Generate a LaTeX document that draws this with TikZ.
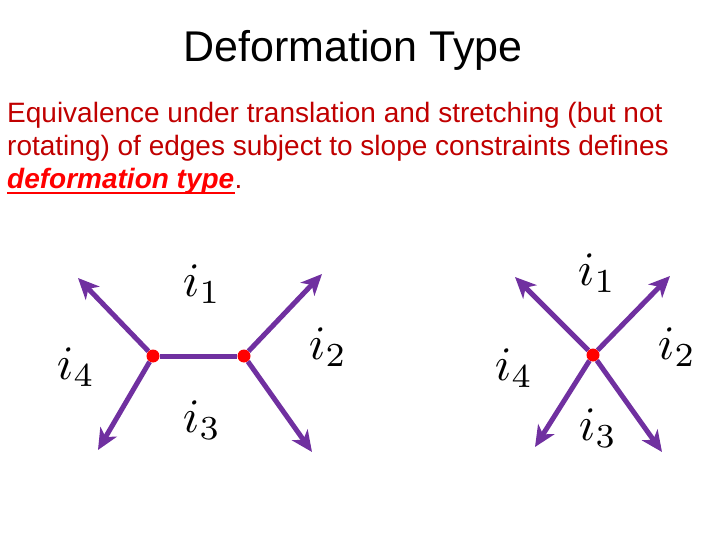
\documentclass[tikz,border=0pt]{standalone}
\usepackage{fontspec}
\setmainfont{Liberation Sans}
\usetikzlibrary{arrows.meta}
\definecolor{edgepurple}{RGB}{112,48,160}
\definecolor{textred}{RGB}{192,0,0}

\begin{document}
\begin{tikzpicture}[x=1pt, y=-1pt, >={Stealth[length=21pt,width=19pt,inset=6pt]}]

    % estilos
    \tikzstyle{vertex}=[circle, fill=red, inner sep=0pt, minimum size=13pt]
    \tikzstyle{edge}=[line width=5pt, edgepurple]
    \tikzstyle{ray}=[->, line width=5pt, edgepurple]
    \tikzstyle{face}=[scale=4.8, inner sep=0pt]
    \tikzstyle{textline}=[anchor=base west, text=textred, font=\fontsize{28}{33}\selectfont, inner sep=0pt]

    \useasboundingbox (0,0) rectangle (720,540);

    % titulo e texto
    \node[anchor=base, font=\fontsize{43}{43}\selectfont, inner sep=0pt] (title) at (353,62) {Deformation Type};
    \node[textline] (l1) at (7,123) {Equivalence under translation and stretching (but not};
    \node[textline] (l2) at (7,156) {rotating) of edges subject to slope constraints defines};
    \node[textline, text=red, font=\fontsize{28}{33}\selectfont\bfseries\itshape] (dt) at (7,189) {deformation type};
    \node[textline, anchor=base west] (dot) at (dt.base east) {.};
    \draw[red, line width=2.2pt] ([yshift=-4pt]dt.base west) -- ([yshift=-4pt]dt.base east);

    % primeiro grafo
    \node[vertex] (u) at (153,356) {};
    \node[vertex] (v) at (244,356) {};
    \coordinate (ua) at (78,278);
    \coordinate (ub) at (98,450);
    \coordinate (va) at (322,274);
    \coordinate (vb) at (312,452);
    \draw[edge] (u) -- (v);
    \draw[ray] (u) -- (ua);
    \draw[ray] (u) -- (ub);
    \draw[ray] (v) -- (va);
    \draw[ray] (v) -- (vb);
    \node[face] (f1) at (202,284) {$i_1$};
    \node[face] (f2) at (328,347) {$i_2$};
    \node[face] (f3) at (202,420) {$i_3$};
    \node[face] (f4) at (76,367) {$i_4$};

    % segundo grafo
    \node[vertex] (w) at (593,355) {};
    \coordinate (wa) at (515,277);
    \coordinate (wb) at (670,276);
    \coordinate (wc) at (535,447);
    \coordinate (wd) at (662,452);
    \draw[ray] (w) -- (wa);
    \draw[ray] (w) -- (wb);
    \draw[ray] (w) -- (wc);
    \draw[ray] (w) -- (wd);
    \node[face] (g1) at (597,273) {$i_1$};
    \node[face] (g2) at (677,347) {$i_2$};
    \node[face] (g3) at (598,428) {$i_3$};
    \node[face] (g4) at (514,368) {$i_4$};

\end{tikzpicture}
\end{document}
